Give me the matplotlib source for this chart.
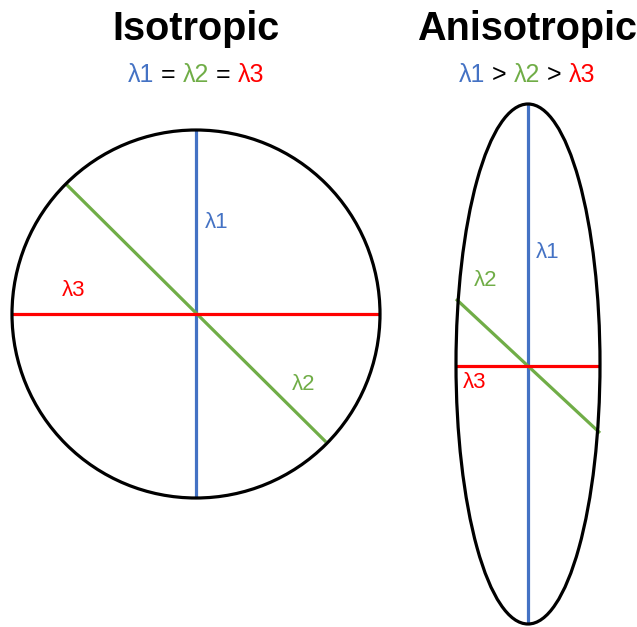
import matplotlib
matplotlib.use('Agg')
import matplotlib.pyplot as plt
from matplotlib.patches import Ellipse

plt.rcParams['font.family'] = ['Liberation Sans', 'DejaVu Sans']

BLUE = '#4472C4'
GREEN = '#70AD47'
RED = '#FF0000'

# shapes, in picture pixels (y grows downward)
titles = ['Isotropic', 'Anisotropic']
title_x = [196, 527]
centers = [(196, 314), (528, 364)]
widths = [368, 144]
heights = [368, 520]

# axis lines for each shape: (x0, y0, x1, y1)
iso_l1 = (196, 130, 196, 497)
iso_l2 = (66, 184, 326, 442)
iso_l3 = (12, 314, 380, 314)
ani_l1 = (528, 104, 528, 624)
ani_l2 = (456, 299, 600, 433)
ani_l3 = (456, 366, 600, 366)

# label positions
iso_lab = {'λ1': (205, 222), 'λ2': (292, 385), 'λ3': (62, 290)}
ani_lab = {'λ1': (536, 252), 'λ2': (474, 281), 'λ3': (463, 383)}

sub_iso = [('λ1', BLUE), (' = ', 'black'), ('λ2', GREEN), (' = ', 'black'), ('λ3', RED)]
sub_ani = [('λ1', BLUE), (' > ', 'black'), ('λ2', GREEN), (' > ', 'black'), ('λ3', RED)]
sub_left = [128, 459]

fig = plt.figure(figsize=(6.37, 6.27), dpi=100)
ax = fig.add_axes([0, 0, 1, 1])
ax.set_xlim(0, 637)
ax.set_ylim(627, 0)
ax.set_aspect('equal')
ax.axis('off')

for c, w, h in zip(centers, widths, heights):
    ax.add_patch(Ellipse(c, w, h, fill=False, ec='black', lw=2.3, zorder=3))

colors = [BLUE, GREEN, RED]
for lines in [(iso_l1, iso_l2, iso_l3), (ani_l1, ani_l2, ani_l3)]:
    for ln, col in zip(lines, colors):
        ax.plot([ln[0], ln[2]], [ln[1], ln[3]], color=col, lw=2.3, zorder=2, solid_capstyle='butt')

for labs in [iso_lab, ani_lab]:
    for (name, pos), col in zip(sorted(labs.items()), colors):
        ax.text(pos[0], pos[1], name, color=col, fontsize=16, ha='left', va='center')

for t, x in zip(titles, title_x):
    ax.text(x, 29, t, fontsize=28.5, fontweight='bold', ha='center', va='center')

for parts, x0 in zip([sub_iso, sub_ani], sub_left):
    prev = ax.text(x0, 75, parts[0][0], color=parts[0][1], fontsize=18, ha='left', va='center')
    for s, col in parts[1:]:
        prev = ax.annotate(s, xy=(1, 0), xycoords=prev, va='bottom', ha='left',
                           color=col, fontsize=18)

fig.savefig('out.png', dpi=100)
